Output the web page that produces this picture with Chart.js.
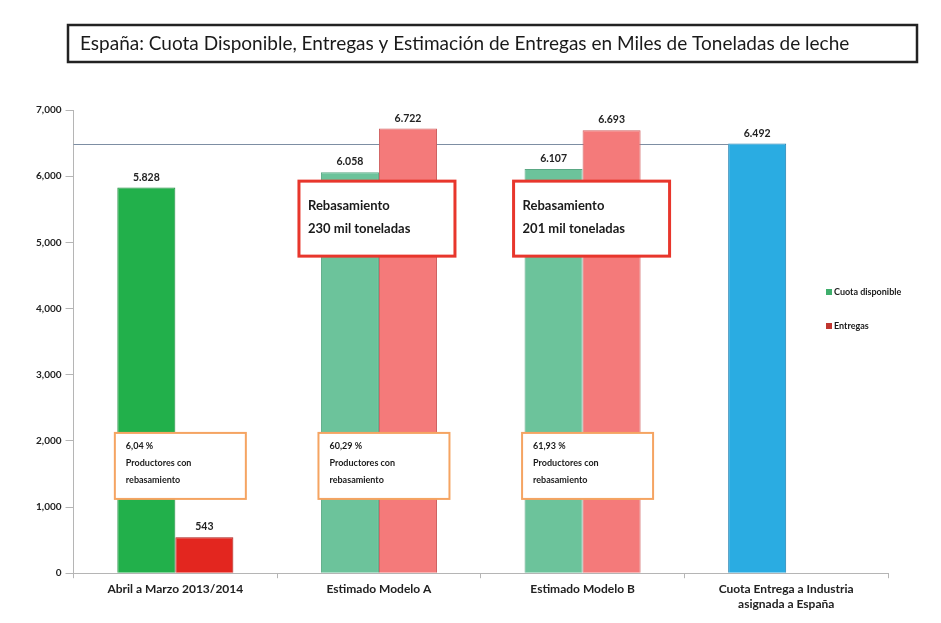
<!DOCTYPE html>
<html>
<head>
<meta charset="utf-8">
<script src="https://cdn.jsdelivr.net/npm/chart.js@4"></script>
<style>
  html, body { margin: 0; padding: 0; background: #ffffff; }
  #wrap { width: 941px; height: 623px; position: relative; }
</style>
</head>
<body>
<div id="wrap"><canvas id="c" width="941" height="623"></canvas></div>
<script>
// ---- Data ----
const TITLE = 'España: Cuota Disponible, Entregas y Estimación de Entregas en Miles de Toneladas de leche';
const categories = [
  'Abril a Marzo 2013/2014',
  'Estimado Modelo A',
  'Estimado Modelo B',
  ['Cuota Entrega a Industria', 'asignada a España']
];
const cuotaDisponible = [5828, 6058, 6107, 6492];
const entregas = [543, 6722, 6693, null];
const cuotaAsignada = 6492;
const yTicks = [0, 1000, 2000, 3000, 4000, 5000, 6000, 7000];
const rebasamientoNotes = [
  { cat: 1, lines: ['Rebasamiento', '230 mil toneladas'] },
  { cat: 2, lines: ['Rebasamiento', '201 mil toneladas'] }
];
const productoresNotes = [
  { cat: 0, lines: ['6,04 %', 'Productores con', 'rebasamiento'] },
  { cat: 1, lines: ['60,29 %', 'Productores con', 'rebasamiento'] },
  { cat: 2, lines: ['61,93 %', 'Productores con', 'rebasamiento'] }
];

// ---- Styles ----
const greenColors = ['#22b04b', '#6cc39b', '#6cc39b', '#2aace2'];
const greenBorders = ['#1c8a3c', '#5aa884', '#5aa884', '#1d7fb0'];
const redColors = ['#e3261f', '#f47a7a', '#f47a7a', '#f47a7a'];
const redBorders = ['#a81c17', '#d06060', '#d06060', '#d06060'];
const FONT = 'Lato, "Open Sans", sans-serif';

function fmtDot(n) { return String(n).replace(/\B(?=(\d{3})+(?!\d))/g, '.'); }
function fmtComma(n) { return String(n).replace(/\B(?=(\d{3})+(?!\d))/g, ','); }

const decorPlugin = {
  id: 'decor',
  beforeDatasetsDraw(chart) {
    const ctx = chart.ctx;
    const y = chart.scales.y;
    const blue = chart.getDatasetMeta(0).data[3];
    const yy = Math.round(y.getPixelForValue(cuotaAsignada)) + 0.5;
    ctx.save();
    ctx.strokeStyle = '#7d8ea3';
    ctx.lineWidth = 1;
    ctx.beginPath();
    ctx.moveTo(chart.chartArea.left, yy);
    ctx.lineTo(blue.x - blue.width / 2, yy);
    ctx.stroke();
    ctx.restore();
  },
  afterDatasetsDraw(chart) {
    const ctx = chart.ctx;
    const x = chart.scales.x, y = chart.scales.y;
    ctx.save();
    // value labels
    ctx.fillStyle = '#222';
    ctx.font = 'bold 10.5px ' + FONT;
    ctx.textAlign = 'center';
    ctx.textBaseline = 'bottom';
    chart.data.datasets.forEach((ds, di) => {
      const meta = chart.getDatasetMeta(di);
      ds.data.forEach((v, i) => {
        if (v == null) return;
        const el = meta.data[i];
        ctx.fillText(fmtDot(v), el.x, el.y - 5);
      });
    });

    // Rebasamiento boxes (red)
    rebasamientoNotes.forEach((n, k) => {
      const cx = x.getPixelForValue(n.cat) + (k === 0 ? -2 : 9);
      const top = y.getPixelForValue(5925);
      const w = 156, h = 75;
      const left = cx - w / 2;
      ctx.fillStyle = '#ffffff';
      ctx.fillRect(left, top, w, h);
      ctx.strokeStyle = '#e8362c';
      ctx.lineWidth = 3;
      ctx.strokeRect(left, top, w, h);
      ctx.fillStyle = '#1a1a1a';
      ctx.font = 'bold 13px ' + FONT;
      ctx.textAlign = 'left';
      ctx.textBaseline = 'middle';
      ctx.fillText(n.lines[0], left + 9, top + 25);
      ctx.fillText(n.lines[1], left + 9, top + 48);
    });

    // Productores boxes (orange)
    productoresNotes.forEach((n) => {
      const cx = x.getPixelForValue(n.cat) + 5;
      const top = y.getPixelForValue(2120);
      const w = 131, h = 66;
      const left = cx - w / 2;
      ctx.fillStyle = '#ffffff';
      ctx.fillRect(left, top, w, h);
      ctx.strokeStyle = '#f5a462';
      ctx.lineWidth = 2;
      ctx.strokeRect(left, top, w, h);
      ctx.fillStyle = '#1a1a1a';
      ctx.font = 'bold 9px ' + FONT;
      ctx.textAlign = 'left';
      ctx.textBaseline = 'middle';
      n.lines.forEach((t, j) => ctx.fillText(t, left + 11, top + 13 + j * 17));
    });
    ctx.restore();
  },
  afterDraw(chart) {
    const ctx = chart.ctx;
    ctx.save();
    // title box
    ctx.strokeStyle = '#222';
    ctx.lineWidth = 2.5;
    ctx.strokeRect(68, 25, 849, 37);
    ctx.fillStyle = '#1a1a1a';
    ctx.font = '19px ' + FONT;
    ctx.textAlign = 'left';
    ctx.textBaseline = 'middle';
    ctx.fillText(TITLE, 80, 44);
    // legend
    const items = [
      { label: chart.data.datasets[0].label, color: '#3fae6c', y: 292 },
      { label: chart.data.datasets[1].label, color: '#c0352f', y: 326 }
    ];
    ctx.font = 'bold 9px ' + FONT;
    items.forEach(it => {
      ctx.fillStyle = it.color;
      ctx.fillRect(826, it.y - 3, 6, 6);
      ctx.fillStyle = '#1a1a1a';
      ctx.fillText(it.label, 834, it.y);
    });
    ctx.restore();
  }
};

new Chart(document.getElementById('c'), {
  type: 'bar',
  data: {
    labels: categories,
    datasets: [
      {
        label: 'Cuota disponible',
        data: cuotaDisponible,
        backgroundColor: greenColors,
        borderColor: greenBorders,
        borderWidth: 1
      },
      {
        label: 'Entregas',
        data: entregas,
        backgroundColor: redColors,
        borderColor: redBorders,
        borderWidth: 1
      }
    ]
  },
  options: {
    responsive: false,
    animation: false,
    devicePixelRatio: 1,
    layout: { padding: { left: 32, right: 53, top: 110, bottom: 8 } },
    plugins: {
      legend: { display: false },
      tooltip: { enabled: false },
      title: { display: false }
    },
    datasets: {
      bar: { categoryPercentage: 0.57, barPercentage: 1.0 }
    },
    scales: {
      x: {
        grid: { display: true, drawOnChartArea: false, drawTicks: true, tickLength: 5, color: '#b5b5b5', offset: true },
        border: { display: true, color: '#b5b5b5', width: 1 },
        ticks: {
          color: '#222',
          font: { family: FONT, size: 12, weight: 'bold' },
          padding: 4,
          maxRotation: 0,
          autoSkip: false
        }
      },
      y: {
        min: 0,
        max: 7000,
        afterBuildTicks(scale) { scale.ticks = yTicks.map(v => ({ value: v })); },
        grid: { display: true, drawOnChartArea: false, drawTicks: true, tickLength: 8, color: '#b5b5b5' },
        border: { display: true, color: '#b5b5b5', width: 1 },
        ticks: {
          color: '#222',
          font: { family: FONT, size: 10, weight: 'bold' },
          padding: 4,
          callback: (v) => fmtComma(v)
        }
      }
    }
  },
  plugins: [decorPlugin]
});
</script>
</body>
</html>
